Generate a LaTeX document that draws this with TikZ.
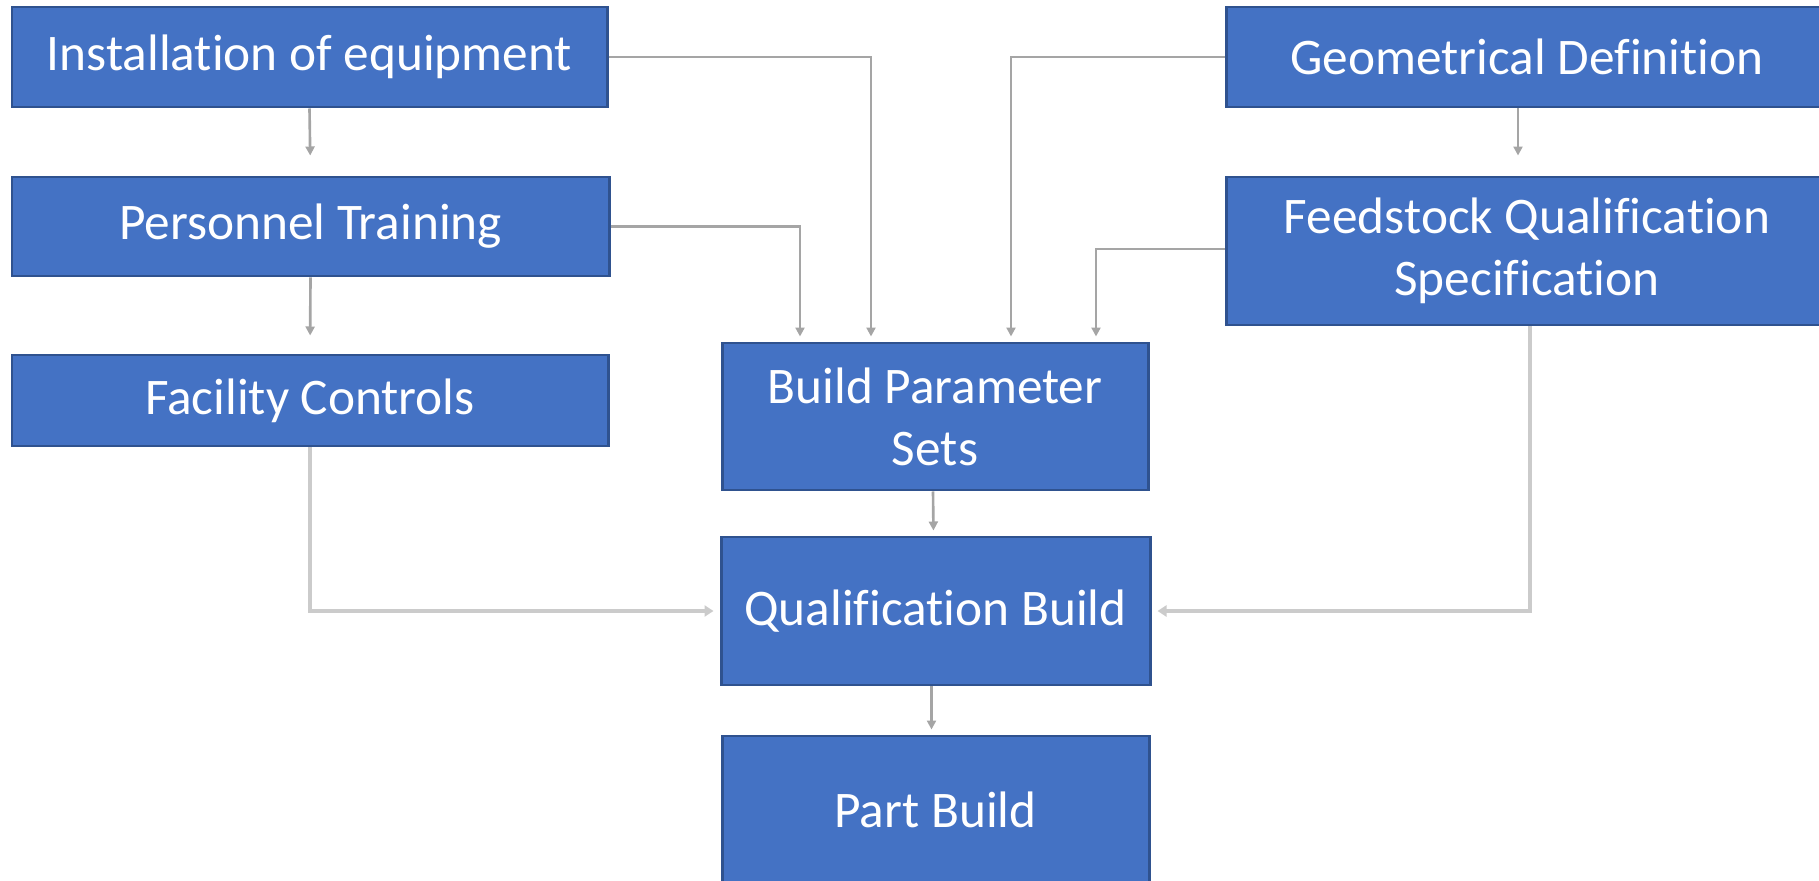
\documentclass[tikz,border=0pt]{standalone}
\usepackage{fontspec}
\setmainfont{Carlito}[Ligatures=NoCommon]
\usepackage{xcolor}
\usepackage{tikz}
\usetikzlibrary{arrows.meta}
\definecolor{BoxFill}{HTML}{4472C4}
\definecolor{BoxEdge}{HTML}{2F528F}
\definecolor{LinkGray}{HTML}{A5A5A5}
\definecolor{FeedGray}{HTML}{CBCBCB}
\tikzset{
  figure/.style={font=\fontsize{14.6}{17.6}\selectfont,text=white},
  stage/.style={draw=BoxEdge,line width=0.85pt,fill=BoxFill,align=center,inner sep=0pt},
  link/.style={-{Triangle[length=0.9mm,width=0.9mm]},line width=0.75pt,draw=LinkGray,shorten >=0.5mm},
  feedlink/.style={-{Triangle[length=0.9mm,width=1.1mm]},line width=1.4pt,draw=FeedGray,shorten >=0.6mm},
}

\begin{document}
\begin{tikzpicture}[figure]
  \useasboundingbox (0,0) rectangle (18.19,-8.81);
  \clip (0,0) rectangle (18.19,-8.81);

  % left column
  \node[stage,minimum width=5.95cm,minimum height=1.00cm] (inst) at (3.095,-0.57) {Installation of equipment};
  \node[stage,minimum width=5.97cm,minimum height=0.99cm] (pers) at (3.105,-2.265) {Personnel Training};
  \node[stage,minimum width=5.96cm,minimum height=0.91cm] (fac) at (3.10,-4.005) {Facility Controls};

  % right column
  \node[stage,minimum width=6.02cm,minimum height=1.00cm] (geo) at (15.27,-0.57) {Geometrical Definition};
  \node[stage,minimum width=6.02cm,minimum height=1.48cm] (feed) at (15.27,-2.51) {Feedstock Qualification\\Specification};

  % middle column
  \node[stage,minimum width=4.26cm,minimum height=1.47cm] (bps) at (9.35,-4.165) {Build Parameter\\Sets};
  \node[stage,minimum width=4.29cm,minimum height=1.48cm] (qual) at (9.355,-6.11) {Qualification Build};
  \node[stage,minimum width=4.27cm,minimum height=1.48cm] (part) at (9.355,-8.10) {Part Build};

  \draw[link,shorten >=2mm] (inst.south) -- (pers.north);
  \draw[link,shorten >=1.8mm] (pers.south) -- (fac.north);
  \draw[link,shorten >=2mm] ([xshift=-0.9mm]geo.south) -- ([xshift=-0.9mm]feed.north);

  \draw[link] (inst.east) -| ([xshift=-6.4mm]bps.north);
  \draw[link] (pers.east) -| ([xshift=-13.5mm]bps.north);
  \draw[link] (geo.west) -| ([xshift=7.6mm]bps.north);
  \draw[link] ([yshift=0.2mm]feed.west) -| ([xshift=16.1mm]bps.north);

  \draw[link] ([xshift=-0.2mm]bps.south) -- ([xshift=-0.2mm]qual.north);
  \draw[link] ([xshift=-0.4mm]qual.south) -- ([xshift=-0.4mm]part.north);

  \draw[feedlink] (fac.south) |- (qual.west);
  \draw[feedlink] ([xshift=0.3mm]feed.south) |- (qual.east);
\end{tikzpicture}
\end{document}
